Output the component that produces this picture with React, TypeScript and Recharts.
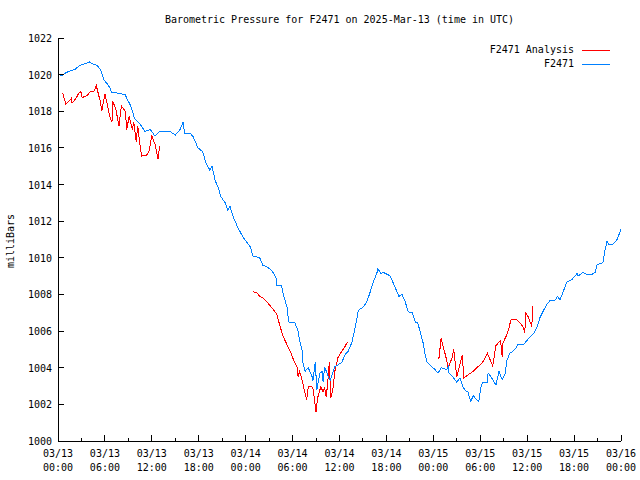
import { LineChart, Line, XAxis, YAxis } from 'recharts'

// hours since 2025-03-13 00:00 UTC
const F2471_HOURS = [
  0, 0.5, 1, 1.5, 2.2, 2.8, 3.5, 4, 4.3, 5, 5.4, 5.9, 6.3, 6.6, 6.9, 7.5, 8.6, 8.8, 9.3, 9.8,
  10.5, 11.1, 11.8, 12.4, 13, 14.3, 15, 15.6, 16, 16.2, 16.9, 17.3, 17.9, 18.5, 18.9, 19.4, 19.7,
  20.1, 20.5, 20.8, 21.4, 21.7, 22, 22.4, 23, 23.7, 24.6, 24.9, 25.8, 26.2, 26.7, 27.1, 27.5, 27.9,
  28, 28.6, 28.8, 29.3, 29.5, 30.3, 30.7, 30.9, 31.2, 31.3, 31.6, 32, 32.5, 32.6, 32.9, 33.1, 33.5,
  33.8, 33.9, 34.1, 34.4, 34.8, 35.2, 35.4, 35.8, 36.3, 36.7, 37.1, 37.6, 38, 38.4, 38.6, 39, 39.5,
  39.9, 40.3, 40.8, 40.9, 41.3, 41.6, 42.1, 42.5, 42.8, 43.4, 43.6, 44, 44.4, 44.8, 45.3, 45.7, 46,
  46.3, 46.7, 46.9, 47.2, 47.6, 48.2, 48.6, 49, 49.7, 49.9, 50, 50.5, 51, 51.4, 51.8, 52.2, 52.4,
  52.8, 53.1, 53.3, 53.8, 54.1, 54.3, 54.9, 55, 55.2, 55.6, 56, 56.4, 56.8, 57.2, 57.4, 57.8, 58.2,
  58.6, 58.8, 59.5, 60, 60.4, 60.9, 61.3, 61.6, 62, 62.5, 62.9, 63.6, 63.9, 64.2, 64.6, 65.1, 65.7,
  66.4, 66.5, 67.1, 67.6, 68.3, 68.7, 68.9, 69.7, 69.9, 70.2, 70.5, 71, 71.5, 71.9, 72,
]
const F2471_MB = [
  1020.0, 1019.95, 1020.1, 1020.2, 1020.3, 1020.5, 1020.6, 1020.7, 1020.6, 1020.5, 1020.3, 1019.7,
  1019.5, 1019.3, 1019.0, 1019.0, 1018.9, 1018.7, 1018.3, 1017.6, 1017.3, 1016.9, 1017.0, 1016.65,
  1016.9, 1016.9, 1016.7, 1017.0, 1017.4, 1016.8, 1016.8, 1016.6, 1016.0, 1015.8, 1015.2, 1014.8,
  1015.0, 1014.2, 1013.85, 1013.35, 1013.0, 1012.6, 1012.8, 1012.25, 1011.65, 1011.1, 1010.6,
  1010.1, 1010.0, 1009.6, 1009.5, 1009.4, 1009.2, 1008.9, 1008.5, 1008.5, 1008.0, 1007.3, 1006.5,
  1006.45, 1006.0, 1005.5, 1005.0, 1004.3, 1003.8, 1004.0, 1003.5, 1003.3, 1004.3, 1002.8, 1003.7,
  1003.8, 1003.2, 1004.05, 1003.7, 1003.3, 1003.8, 1004.05, 1004.15, 1004.3, 1004.7, 1004.9, 1005.4,
  1006.2, 1007.1, 1007.2, 1007.3, 1007.6, 1008.1, 1008.65, 1009.2, 1009.4, 1009.15, 1009.2, 1009.1,
  1009.0, 1008.7, 1008.1, 1007.9, 1008.0, 1007.6, 1007.05, 1007.0, 1006.5, 1006.45, 1006.0, 1005.35,
  1004.8, 1004.3, 1004.15, 1003.9, 1003.7, 1004.0, 1003.9, 1004.05, 1003.7, 1003.5, 1003.2, 1003.45,
  1002.95, 1002.7, 1002.7, 1002.15, 1002.5, 1002.35, 1002.15, 1002.95, 1003.2, 1003.2, 1003.7,
  1003.6, 1003.35, 1003.05, 1003.8, 1003.35, 1003.7, 1004.4, 1004.8, 1004.9, 1005.1, 1005.25,
  1005.25, 1005.5, 1005.7, 1005.9, 1006.25, 1006.7, 1007.05, 1007.45, 1007.65, 1007.7, 1007.9,
  1007.7, 1008.15, 1008.7, 1008.8, 1009.15, 1009.0, 1009.2, 1009.1, 1009.1, 1009.2, 1009.6,
  1009.75, 1010.3, 1010.9, 1010.7, 1010.75, 1011.0, 1011.45, 1011.55,
]

// analysis runs, null = gap between runs
const ANALYSIS_HOURS = [
  0.6, 1, 1.3, 1.7, 1.8, 2.3, 2.6, 2.9, 3.1, 3.7, 4.1, 4.6, 4.9, 5.1, 5.4, 5.6, 6, 6.3, 6.6, 6.9,
  7, 7.4, 7.8, 8.1, 8.6, 8.8, 9.1, 9.5, 9.7, 10, 10.2, 10.5, 10.7, 11.3, 11.6, 12, 12.4, 12.8, 13,
  18,
  24.9, 25.4, 25.8, 26.2, 26.7, 27, 27.5, 28, 28.4, 28.8, 29.3, 29.7, 30.1, 30.6, 30.7, 30.9, 31.2,
  31.6, 31.8, 32, 32.5, 32.6, 33, 33.2, 33.6, 33.9, 34.1, 34.3, 34.5, 34.7, 34.9, 35.2, 35.4, 35.8,
  36.3, 36.7, 37,
  42,
  48.7, 49, 49.2, 49.6, 49.9, 50.4, 50.6, 51, 51.3, 51.7, 51.9, 52.4, 53.1, 53.7, 54.3, 54.6, 54.9,
  55.1, 55.6, 56, 56.3, 56.6, 56.8, 56.9, 57.4, 57.7, 57.9, 58.4, 58.7, 59.1, 59.5, 59.7, 59.8,
  60.1, 60.6, 60.7,
]
const ANALYSIS_MB = [
  1019.0, 1018.4, 1018.5, 1018.7, 1018.45, 1018.7, 1018.95, 1019.1, 1018.75, 1018.85, 1019.05,
  1019.1, 1019.4, 1019.05, 1018.55, 1018.0, 1018.95, 1018.4, 1017.75, 1017.4, 1018.55, 1018.1,
  1017.2, 1018.3, 1018.0, 1017.0, 1017.75, 1017.0, 1017.4, 1016.35, 1017.2, 1016.1, 1015.55,
  1015.6, 1015.75, 1016.65, 1016.2, 1015.4, 1016.1,
  null,
  1008.15, 1008.1, 1007.9, 1007.8, 1007.6, 1007.45, 1007.2, 1006.9, 1006.25, 1005.7, 1005.25,
  1004.9, 1004.45, 1004.0, 1003.5, 1003.8, 1003.35, 1002.6, 1002.25, 1002.95, 1002.95, 1002.9,
  1001.6, 1002.35, 1002.95, 1002.7, 1002.9, 1002.4, 1003.2, 1004.3, 1002.35, 1002.95, 1003.8,
  1004.55, 1004.9, 1005.15, 1005.4,
  null,
  1004.45, 1005.6, 1005.25, 1004.6, 1004.0, 1004.55, 1005.0, 1003.5, 1004.0, 1004.7, 1003.45,
  1003.6, 1003.8, 1004.05, 1004.3, 1004.5, 1004.8, 1004.6, 1004.1, 1005.2, 1005.35, 1005.5,
  1004.6, 1005.35, 1005.8, 1006.2, 1006.6, 1006.65, 1006.6, 1006.45, 1006.2, 1005.9, 1007.0,
  1006.8, 1006.25, 1007.35,
]

const X_TICKS = [0, 3, 6, 9, 12, 15, 18, 21, 24, 27, 30, 33, 36, 39, 42, 45, 48, 51, 54, 57, 60, 63, 66, 69, 72]
const X_MAJOR = [0, 6, 12, 18, 24, 30, 36, 42, 48, 54, 60, 66, 72]
const X_DATES = ['03/13', '03/13', '03/13', '03/13', '03/14', '03/14', '03/14', '03/14', '03/15', '03/15', '03/15', '03/15', '03/16']
const X_TIMES = ['00:00', '06:00', '12:00', '18:00', '00:00', '06:00', '12:00', '18:00', '00:00', '06:00', '12:00', '18:00', '00:00']
const Y_TICKS = [1000, 1002, 1004, 1006, 1008, 1010, 1012, 1014, 1016, 1018, 1020, 1022]

const FONT = '"DejaVu Sans Mono", monospace'
const RED = '#ff0000'
const BLUE = '#0080ff'

const f2471Data = F2471_HOURS.map((h, i) => ({ h, mb: F2471_MB[i] }))
const analysisData = ANALYSIS_HOURS.map((h, i) => ({ h, mb: ANALYSIS_MB[i] }))

// gnuplot style: ticks point into the plot
function BottomTick({ x, y, payload }: any) {
  const i = X_MAJOR.indexOf(payload.value)
  const len = i >= 0 ? 6 : 3
  return (
    <g>
      <line x1={x} x2={x} y1={y} y2={y - len} stroke="#000" shapeRendering="crispEdges" />
      {i >= 0 && (
        <text x={x} y={y + 16} textAnchor="middle" fontSize={10} fontFamily={FONT} fill="#000">{X_DATES[i]}</text>
      )}
      {i >= 0 && (
        <text x={x} y={y + 30} textAnchor="middle" fontSize={10} fontFamily={FONT} fill="#000">{X_TIMES[i]}</text>
      )}
    </g>
  )
}

function TopTick({ x, y, payload }: any) {
  const len = X_MAJOR.includes(payload.value) ? 6 : 3
  return <line x1={x} x2={x} y1={y} y2={y + len} stroke="#000" shapeRendering="crispEdges" />
}

function LeftTick({ x, y, payload }: any) {
  return (
    <g>
      <line x1={x} x2={x + 6} y1={y} y2={y} stroke="#000" shapeRendering="crispEdges" />
      <text x={x - 6} y={y + 4} textAnchor="end" fontSize={10} fontFamily={FONT} fill="#000">{payload.value}</text>
    </g>
  )
}

function RightTick({ x, y }: any) {
  return <line x1={x} x2={x - 6} y1={y} y2={y} stroke="#000" shapeRendering="crispEdges" />
}

const axisLine = { stroke: '#000', shapeRendering: 'crispEdges' }

export default function App() {
  return (
    <div style={{ position: 'absolute', left: 0, top: 0, width: 640, height: 480, background: '#fff', fontFamily: FONT, fontSize: 10 }}>
      <div style={{ position: 'absolute', left: 58, width: 563, top: 14, lineHeight: '12px', textAlign: 'center' }}>
        Barometric Pressure for F2471 on 2025-Mar-13 (time in UTC)
      </div>
      <div style={{ position: 'absolute', left: 11, top: 241, lineHeight: '12px', transform: 'translate(-50%, -50%) rotate(-90deg)', whiteSpace: 'nowrap' }}>
        milliBars
      </div>
      <LineChart width={640} height={480} margin={{ top: 38, right: 19, bottom: 0, left: 0 }}>
        <XAxis
          dataKey="h"
          type="number"
          domain={[0, 72]}
          ticks={X_TICKS}
          interval={0}
          height={39}
          tickSize={0}
          tickMargin={0}
          tickLine={false}
          axisLine={axisLine}
          tick={<BottomTick />}
          allowDataOverflow
        />
        <XAxis
          xAxisId="top"
          orientation="top"
          dataKey="h"
          type="number"
          domain={[0, 72]}
          ticks={X_TICKS}
          interval={0}
          height={0}
          tickSize={0}
          tickMargin={0}
          tickLine={false}
          axisLine={axisLine}
          tick={<TopTick />}
        />
        <YAxis
          type="number"
          domain={[1000, 1022]}
          ticks={Y_TICKS}
          interval={0}
          width={58}
          tickSize={0}
          tickMargin={0}
          tickLine={false}
          axisLine={axisLine}
          tick={<LeftTick />}
          allowDataOverflow
        />
        <YAxis
          yAxisId="right"
          orientation="right"
          type="number"
          domain={[1000, 1022]}
          ticks={Y_TICKS}
          interval={0}
          width={0}
          tickSize={0}
          tickMargin={0}
          tickLine={false}
          axisLine={axisLine}
          tick={<RightTick />}
        />
        <Line
          data={analysisData}
          dataKey="mb"
          stroke={RED}
          strokeWidth={1}
          dot={false}
          connectNulls={false}
          shapeRendering="crispEdges"
          isAnimationActive={false}
        />
        <Line
          data={f2471Data}
          dataKey="mb"
          stroke={BLUE}
          strokeWidth={1}
          dot={false}
          shapeRendering="crispEdges"
          isAnimationActive={false}
        />
      </LineChart>
      <div style={{ position: 'absolute', right: 30, top: 43, lineHeight: '14px', textAlign: 'right' }}>
        <div style={{ display: 'flex', alignItems: 'center', justifyContent: 'flex-end' }}>
          <span>F2471 Analysis</span>
          <span style={{ display: 'inline-block', width: 28, height: 1, background: RED, marginLeft: 8 }} />
        </div>
        <div style={{ display: 'flex', alignItems: 'center', justifyContent: 'flex-end' }}>
          <span>F2471</span>
          <span style={{ display: 'inline-block', width: 28, height: 1, background: BLUE, marginLeft: 8 }} />
        </div>
      </div>
    </div>
  )
}
